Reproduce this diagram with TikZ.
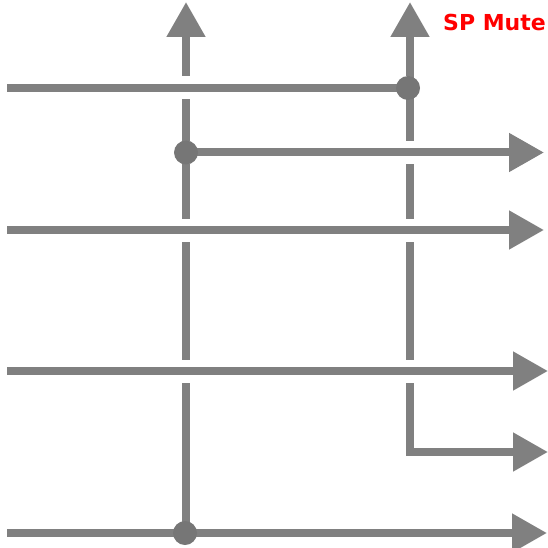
\documentclass[tikz,border=0pt]{standalone}
\usepackage{fontspec}
\usepackage{xcolor}
\usepackage{tikz}
\usetikzlibrary{arrows.meta}
\newfontfamily\labelfont{DejaVu Sans}
\definecolor{lgray}{RGB}{128,128,128}
\definecolor{dgray}{RGB}{118,118,118}
\definecolor{mred}{RGB}{255,0,0}

\begin{document}
\begin{tikzpicture}[x=1pt, y=-1pt,
        wire/.style={draw=lgray, line width=8pt},
        arr/.style={wire, -{Triangle[length=35pt, width=37pt]}},
        arrboth/.style={wire, {Triangle[length=35pt, width=37pt]}-{Triangle[length=35pt, width=37pt]}},
        gap/.style={preaction={draw=white, line width=23pt, -}},
        junc/.style={circle, fill=dgray, inner sep=0pt, minimum size=24pt}]
      \useasboundingbox (0,0) rectangle (548,548);

      % end points
      \coordinate (ltop) at (186,2);
      \coordinate (lbot) at (186,533);
      \coordinate (rtop) at (410,2);
      \coordinate (rout) at (548,452);
      \coordinate (a1) at (7,88);
      \coordinate (b2) at (544,152.5);
      \coordinate (a3) at (7,230);
      \coordinate (b3) at (544,230);
      \coordinate (a4) at (7,371);
      \coordinate (b4) at (548,371);
      \coordinate (a6) at (7,533);
      \coordinate (b6) at (547,533);
      \coordinate (jA) at (408,88);
      \coordinate (jB) at (186,152.5);
      \coordinate (jC) at (185,533);

      % vertical buses
      \draw[arr] (lbot) -- (ltop);
      \draw[arrboth] (rtop) |- (rout);

      % horizontal lines
      \draw[wire, gap] (a1) -- (jA);
      \draw[arr, gap] (jB) -- (b2);
      \draw[arr, gap] (a3) -- (b3);
      \draw[arr, gap] (a4) -- (b4);
      \draw[arr] (a6) -- (b6);

      % junctions
      \node[junc] (dotA) at (jA) {};
      \node[junc] (dotB) at (jB) {};
      \node[junc] (dotC) at (jC) {};

      \node[anchor=base west, inner sep=0pt, text=mred,
        font=\labelfont\bfseries\fontsize{22}{26}\selectfont] (mute) at (443,31) {SP Mute};
    \end{tikzpicture}
\end{document}
